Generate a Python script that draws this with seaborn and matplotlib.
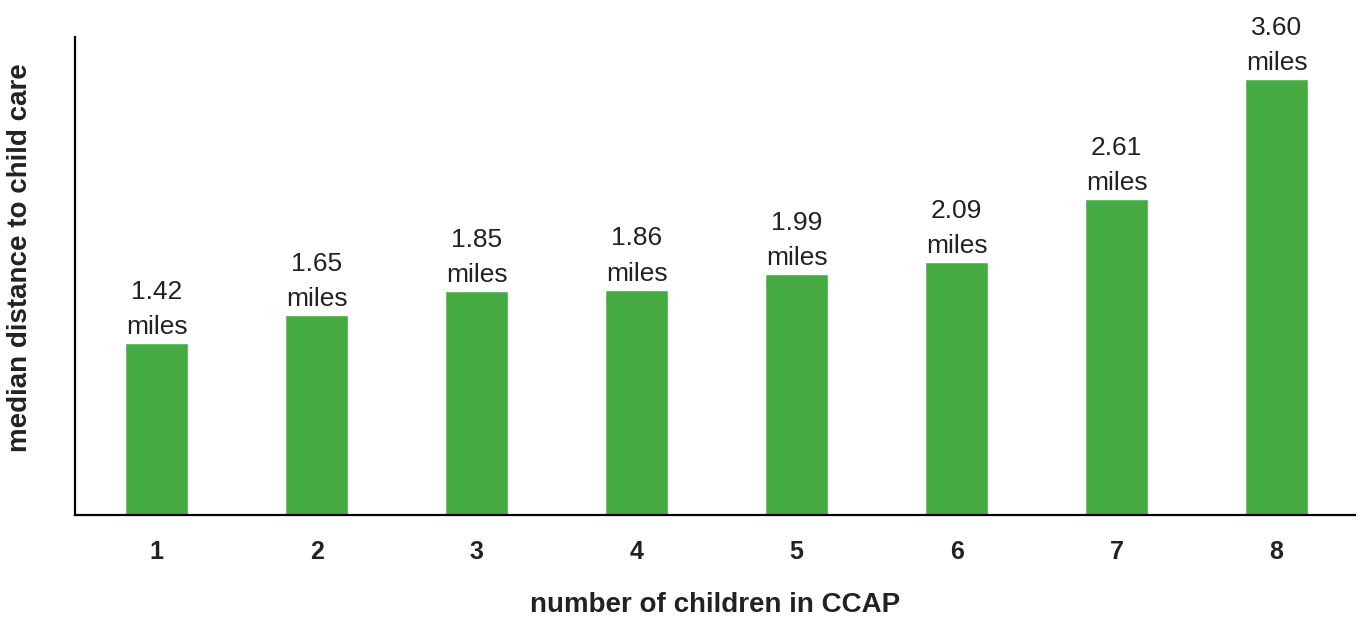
import matplotlib
matplotlib.use("Agg")
import matplotlib.pyplot as plt
import seaborn as sns
import pandas as pd

# Median distance to child care by number of children in CCAP
children = ["1", "2", "3", "4", "5", "6", "7", "8"]
distance_miles = [1.42, 1.65, 1.85, 1.86, 1.99, 2.09, 2.61, 3.60]

sns.set_theme(style="white")
plt.rcParams["font.family"] = ["Liberation Sans", "DejaVu Sans"]

df = pd.DataFrame({"children": children, "miles": distance_miles})

fig = plt.figure(figsize=(13.64, 6.18), dpi=100)
ax = fig.add_axes([0.055, 0.1667, 0.9384, 0.7733])

sns.barplot(data=df, x="children", y="miles", color="#46AB42",
            saturation=1, width=0.39, ax=ax)

for i, v in enumerate(distance_miles):
    ax.annotate(f"{v:.2f}\nmiles", xy=(i, v), xytext=(0, 3),
                textcoords="offset points", ha="center", va="bottom",
                fontsize=19, color="#222222", linespacing=1.6)

ax.set_xlim(-0.51, 7.49)
ax.set_ylim(0, 3.95)
ax.set_yticks([])
ax.tick_params(axis="x", length=0, pad=18, labelsize=18)
for lbl in ax.get_xticklabels():
    lbl.set_fontweight("bold")
    lbl.set_color("#222222")

ax.set_xlabel("number of children in CCAP", fontsize=20, fontweight="bold",
              color="#222222", labelpad=20)
ax.set_ylabel("median distance to child care", fontsize=20, fontweight="bold",
              color="#222222")
ax.yaxis.set_label_coords(-0.0325, 0.538)

for side in ["top", "right"]:
    ax.spines[side].set_visible(False)
for side in ["left", "bottom"]:
    ax.spines[side].set_color("black")
    ax.spines[side].set_linewidth(1.6)

fig.savefig("out.png", dpi=100, facecolor="white")
